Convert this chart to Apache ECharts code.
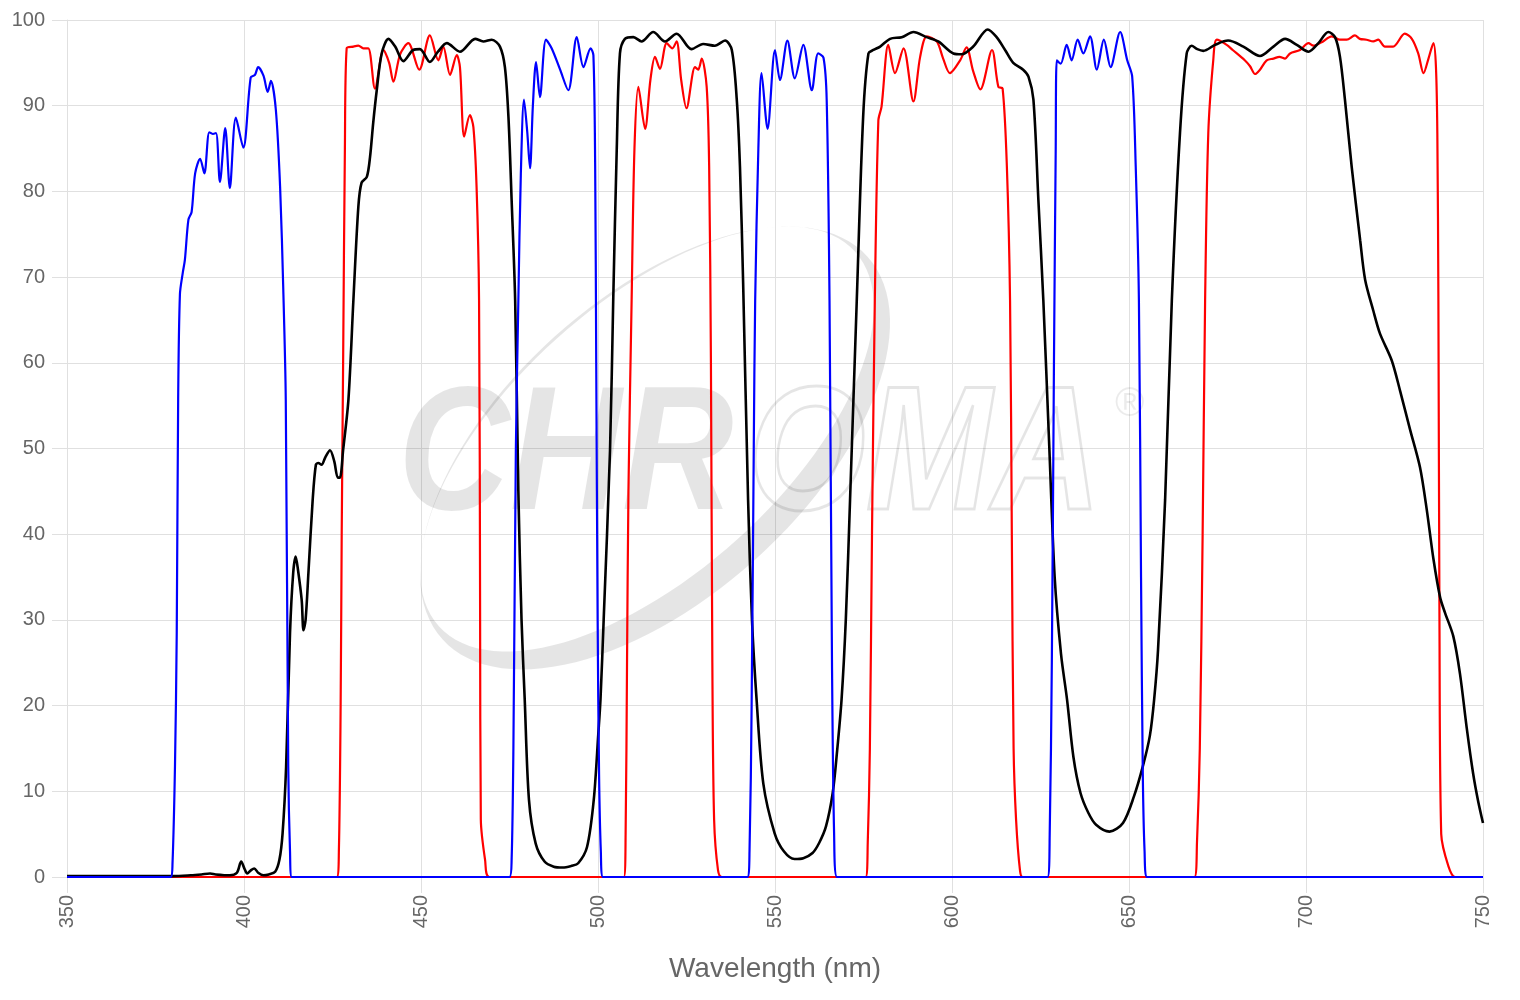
<!DOCTYPE html>
<html>
<head>
<meta charset="utf-8">
<script src="https://cdn.jsdelivr.net/npm/echarts@6/dist/echarts.min.js"></script>
<style>
html,body{margin:0;padding:0;background:#fff;}
#chart{width:1520px;height:1000px;}
</style>
</head>
<body>
<div id="chart"></div>
<script>
// Wavelength ticks
var xTicks = [350, 400, 450, 500, 550, 600, 650, 700, 750];
var yTicks = [0, 10, 20, 30, 40, 50, 60, 70, 80, 90, 100];
var xAxisName = 'Wavelength (nm)';

// Blue filter (exciter) - wavelength (nm) and transmission (%)
var blueX = [350, 379.3, 379.8, 380.5, 381.0, 381.4, 381.9, 382.7, 383.3, 384.3, 385.2, 386.2, 387.6, 388.8, 390.2, 391.2, 392.1, 393.2, 394.7, 396.0, 397.7, 399.8, 401.9, 403.1, 404.0, 405.5, 406.7, 407.6, 409.0, 410.2, 411.1, 411.8, 412.5, 413.0, 413.5,
  475.0, 475.6, 476.1, 476.8, 477.5, 478.2, 479.1, 480.0, 480.8, 481.6, 482.5, 483.6, 485.3, 486.9, 489.3, 491.6, 494.0, 495.9, 497.9, 498.7, 499.2, 499.5, 499.9, 500.3, 500.8, 501.4,
  542.2, 542.8, 543.4, 544.0, 544.4, 545.3, 546.2, 547.9, 550.0, 551.4, 553.5, 555.6, 558.0, 560.4, 562.2, 563.7, 564.6, 565.4, 566.1, 566.7, 567.5,
  627.0, 627.6, 628.2, 628.8, 629.3, 629.6, 630.7, 632.4, 633.8, 635.5, 637.1, 639.0, 640.9, 642.9, 644.8, 647.5, 649.5, 650.9, 651.9, 652.8, 653.4, 653.9, 654.4, 655.1, 750];
var blueY = [0, 0, 1.5, 12.9, 28.5, 55.7, 68, 70.5, 72, 76.7, 77.6, 82.1, 83.8, 82.1, 86.9, 86.7, 86.8, 81.1, 87.4, 80.4, 88.6, 85.1, 93.3, 93.6, 94.5, 93.5, 91.6, 92.9, 89.5, 80.5, 68.5, 55.7, 12.9, 3, 0,
  0, 2, 15, 50, 67.3, 82, 90.7, 87, 82.7, 90, 95.1, 91, 97.7, 96.7, 94.2, 91.8, 98, 94.5, 96.7, 95.9, 82.9, 60, 30, 12, 3, 0,
  0, 3, 20, 50, 67.3, 85, 93.8, 87.3, 96.5, 93, 97.6, 93.2, 97.1, 91.8, 96.1, 95.6, 90.7, 67.3, 25, 5, 0,
  0, 5, 25, 60, 85, 95.3, 94.9, 97.1, 95.3, 97.7, 96.1, 98.1, 94.2, 97.7, 94.5, 98.6, 95.3, 93.4, 82.9, 67.3, 35, 12, 3, 0, 0];

// Red filter (emitter)
var redX = [350, 426.2, 426.8, 427.3, 427.6, 428.0, 428.5, 429.0, 430.9, 432.3, 433.7, 435.1, 437.0, 439.4, 441.0, 442.2, 444.1, 446.4, 449.5, 452.5, 454.9, 456.3, 458.2, 460.1, 461.0, 462.2, 463.8, 464.8, 465.7, 466.4, 466.7, 466.9, 468.1, 469.3,
  507.3, 507.8, 508.2, 508.6, 509.5, 510.3, 511.4, 513.3, 514.8, 516.1, 517.5, 519.4, 521.0, 522.2, 523.5, 525.0, 527.4, 528.3, 529.3, 530.7, 531.4, 531.9, 532.3, 532.8, 533.9, 535.0,
  575.6, 576.2, 576.8, 577.4, 578.2, 579.2, 580.1, 582.0, 583.9, 586.3, 589.1, 591.0, 592.9, 595.7, 597.5, 599.4, 602.3, 604.1, 606.0, 608.0, 611.3, 613.1, 614.3, 615.5, 616.4, 616.9, 617.4, 618.1, 619.2, 620.0,
  668.5, 669.2, 670.0, 670.8, 671.5, 672.4, 673.8, 674.8, 677.6, 679.3, 682.7, 684.2, 685.6, 687.0, 688.9, 690.8, 692.5, 694.1, 695.5, 698.3, 700.7, 702.1, 704.4, 707.3, 709.6, 711.5, 713.8, 715.2, 717.1, 719.0, 720.4, 722.3, 724.6, 727.9, 729.9, 731.7, 733.2, 734.6, 736.0, 736.7, 737.1, 737.4, 737.7, 738.2, 740.2, 742.1, 750];
var redY = [0, 0, 3, 20, 40, 60, 85, 96.7, 96.9, 97, 96.7, 96.7, 92, 96.5, 95, 92.8, 96, 97.3, 94.2, 98.2, 95.3, 96.9, 93.6, 95.9, 94.5, 86.4, 88.9, 87.5, 80.5, 67.3, 30, 6.7, 2, 0,
  0, 5, 25, 45, 67.3, 85, 92.2, 87.3, 93, 95.7, 94.3, 97.3, 96.7, 97.5, 93, 89.7, 94.5, 94.2, 95.5, 92.2, 82.9, 60, 25, 6.7, 0.8, 0,
  0, 4, 15, 40, 67.3, 88.3, 89.9, 97.1, 93.8, 96.7, 90.5, 95.7, 98.1, 97.5, 95.5, 93.8, 95.3, 96.8, 94, 91.9, 96.5, 92.2, 92, 82.9, 67.3, 40, 15, 6.7, 0.8, 0,
  0, 4, 15, 40, 67.3, 86.8, 95.3, 97.7, 97.1, 96.5, 95.3, 94.6, 93.7, 94.2, 95.3, 95.5, 95.7, 95.5, 96.1, 96.5, 97.3, 97, 97.4, 98.1, 97.7, 97.7, 98.2, 97.8, 97.7, 97.5, 97.7, 96.9, 96.9, 98.4, 97.8, 96.1, 93.8, 95.5, 97.3, 94.6, 86.8, 67.3, 30, 5, 1.3, 0, 0];

// Black (dichroic)
var blackX = [350, 370, 380, 385, 388, 390.4, 392, 396, 398, 399.2, 400.2, 400.9, 402, 402.9, 404, 405.5, 407, 408.8, 410, 410.9, 411.9, 413.0, 413.9, 414.6, 415.2, 416.3, 416.8, 417.4, 418.2, 419.4, 420.3, 421.0, 421.9, 423.0, 424.3, 425.5, 426.5, 427.1, 428.0, 429.5, 430.9, 432.3, 433.2, 434.7, 435.6, 436.5, 437.5, 438.9, 440.8, 442.7, 445.0, 447.8, 449.7, 452.5, 454.8, 457.3, 461.0, 465.3, 467.6, 470.0, 472.3, 473.7, 474.7, 475.6, 476.6, 477.5, 478.4, 479.3, 480.5, 482.4, 484.9, 487.5, 490.0, 492.5, 494.4, 496.9, 498.8, 500.1, 500.7, 501.6, 503.4, 504.3, 505.3, 506.2, 507.6, 510.0, 512.3, 515.6, 518.9, 522.2, 526.4, 529.7, 533.0, 535.9, 537.8, 539.2, 540.1, 541.0, 542.4, 543.5, 544.8, 546.7, 549.9, 552.5, 555.5, 558.0, 560.6, 562.5, 564.4, 566.3, 567.5, 568.8, 570.0, 571.2, 573.1, 574.9, 576.4, 577.8, 579.7, 582.5, 585.8, 589.1, 592.8, 596.1, 600.4, 602.7, 606.0, 610.1, 612.6, 615.0, 617.3, 620.1, 621.6, 623.0, 624.4, 625.8, 627.5, 629.0, 630.8, 632.5, 634.3, 636.3, 638.5, 640.7, 644.5, 648.3, 651.4, 653.9, 655.9, 657.1, 658.2, 660.2, 662.1, 664.4, 666.3, 667.7, 669.3, 671.0, 674.3, 678.0, 682.3, 687.0, 690.8, 694.1, 697.4, 700.7, 703.5, 706.3, 708.2, 709.6, 711.0, 712.9, 715.3, 716.7, 719.0, 720.9, 724.2, 726.6, 729.4, 732.2, 734.1, 736.0, 737.9, 739.3, 741.6, 743.5, 745.4, 747.2, 748.6, 750];
var blackY = [0.1, 0.1, 0.1, 0.2, 0.3, 0.4, 0.3, 0.2, 0.5, 1.8, 0.9, 0.4, 0.8, 1.0, 0.5, 0.2, 0.3, 0.6, 2, 5.1, 12.9, 28.5, 35.5, 37.4, 36, 32.3, 28.8, 30, 35.5, 44, 48.1, 48.3, 48.1, 49, 49.8, 48.5, 46.6, 46.6, 49.8, 55.7, 67.3, 78.2, 81, 81.7, 84, 88, 91.8, 96.1, 97.8, 96.9, 95.2, 96.5, 96.6, 95.1, 96.3, 97.3, 96.3, 97.8, 97.5, 97.7, 96.9, 94.5, 88.7, 79, 67.3, 45, 30, 20.7, 9, 3.9, 1.8, 1.2, 1.1, 1.3, 1.6, 3.5, 9, 16.8, 20.7, 30, 49.8, 67.3, 85, 96.1, 97.8, 98, 97.5, 98.6, 97.5, 98.4, 96.6, 97.2, 97, 97.6, 96.5, 90.7, 82.9, 69.3, 44, 30, 20.7, 10.9, 5.1, 3, 2.1, 2.2, 2.8, 4, 5.9, 9.8, 14.5, 20.7, 30, 44, 67.3, 88.7, 96.1, 96.5, 96.9, 97.8, 98, 98.6, 98, 97.5, 96.1, 96, 96.9, 98.9, 98, 96.5, 95, 94.2, 93.4, 90.7, 79, 67.3, 50, 35, 26, 20.7, 14, 9.8, 7.5, 6.1, 5.3, 6.3, 9.4, 12.9, 16.5, 20.7, 26.5, 44, 67.3, 86.8, 96.1, 97, 96.6, 96.4, 97.1, 97.6, 96.9, 95.8, 96.9, 97.8, 97.1, 96.3, 97.3, 98.6, 98, 95.7, 90.7, 82.9, 74.3, 69.7, 66.1, 63.4, 60.3, 56.7, 52.2, 47.8, 42.9, 37.1, 32.6, 30.8, 28.1, 23.7, 17.4, 12.1, 8.9, 6.3];

function pairs(xs, ys) { return xs.map(function (x, i) { return [x, ys[i]]; }); }

// Watermark crescent ring (decoration)
function ringPoints(cx, cy, a, b, rotDeg, n, reverse) {
  var pts = [];
  var r = rotDeg * Math.PI / 180;
  for (var i = 0; i <= n; i++) {
    var t = (reverse ? -1 : 1) * i / n * Math.PI * 2;
    var ex = a * Math.cos(t), ey = b * Math.sin(t);
    pts.push([cx + ex * Math.cos(r) + ey * Math.sin(r), cy - ex * Math.sin(r) + ey * Math.cos(r)]);
  }
  return pts;
}
var outer = ringPoints(655, 448, 286, 150, 42, 120, false);
var inner = ringPoints(647, 439, 280, 135, 42, 120, true);
var crescent = outer.concat(inner);

var wmFill = 'rgba(0,0,0,0.10)';
var chart = echarts.init(document.getElementById('chart'), null, { renderer: 'canvas' });
chart.setOption({
  animation: false,
  backgroundColor: '#fff',
  textStyle: { fontFamily: 'Liberation Sans, Arial, sans-serif' },
  grid: { left: 67, right: 37, top: 20, bottom: 123, containLabel: false },
  graphic: [
    { type: 'polygon', z: 1, silent: true, shape: { points: crescent }, style: { fill: wmFill } },
    { type: 'text', z: 1, silent: true, x: 398, y: 548, scaleX: 0.88,
      style: { text: 'CHR', font: 'italic 900 176px "Liberation Sans", Arial, sans-serif', fill: wmFill, textVerticalAlign: 'bottom' } },
    { type: 'text', z: 1, silent: true, x: 748, y: 548, scaleX: 0.86,
      style: { text: 'OMA', font: 'italic 900 176px "Liberation Sans", Arial, sans-serif', fill: 'rgba(0,0,0,0)', stroke: wmFill, lineWidth: 3, textVerticalAlign: 'bottom' } },
    { type: 'text', z: 1, silent: true, x: 1115, y: 385,
      style: { text: '\u00AE', font: '40px "Liberation Sans", Arial, sans-serif', fill: 'rgba(0,0,0,0.08)' } }
  ],
  xAxis: {
    type: 'value', min: xTicks[0], max: xTicks[xTicks.length - 1], interval: 50,
    name: xAxisName, nameLocation: 'middle', nameGap: 78,
    nameTextStyle: { fontSize: 28, color: '#666' },
    axisLine: { show: true, lineStyle: { color: '#d0d0d0', width: 1 } },
    axisTick: { show: true, length: 16, lineStyle: { color: '#e0e0e0' } },
    axisLabel: { rotate: 90, fontSize: 20, color: '#666', margin: 18 },
    splitLine: { show: true, lineStyle: { color: '#e0e0e0', width: 1 } }
  },
  yAxis: {
    type: 'value', min: yTicks[0], max: yTicks[yTicks.length - 1], interval: 10,
    axisLine: { show: true, lineStyle: { color: '#e0e0e0', width: 1 } },
    axisTick: { show: true, length: 15, lineStyle: { color: '#e0e0e0' } },
    axisLabel: { fontSize: 20, color: '#666', margin: 22 },
    splitLine: { show: true, lineStyle: { color: '#e0e0e0', width: 1 } }
  },
  series: [
    { type: 'line', name: 'Emitter', data: pairs(redX, redY), showSymbol: false, smooth: 0.3, z: 3,
      lineStyle: { color: '#ff0000', width: 2.2 }, itemStyle: { color: '#ff0000' } },
    { type: 'line', name: 'Dichroic', data: pairs(blackX, blackY), showSymbol: false, smooth: 0.3, z: 4,
      lineStyle: { color: '#000000', width: 2.6 }, itemStyle: { color: '#000000' } },
    { type: 'line', name: 'Exciter', data: pairs(blueX, blueY), showSymbol: false, smooth: 0.3, z: 5,
      lineStyle: { color: '#0000ff', width: 2.2 }, itemStyle: { color: '#0000ff' } }
  ]
});
</script>
</body>
</html>
